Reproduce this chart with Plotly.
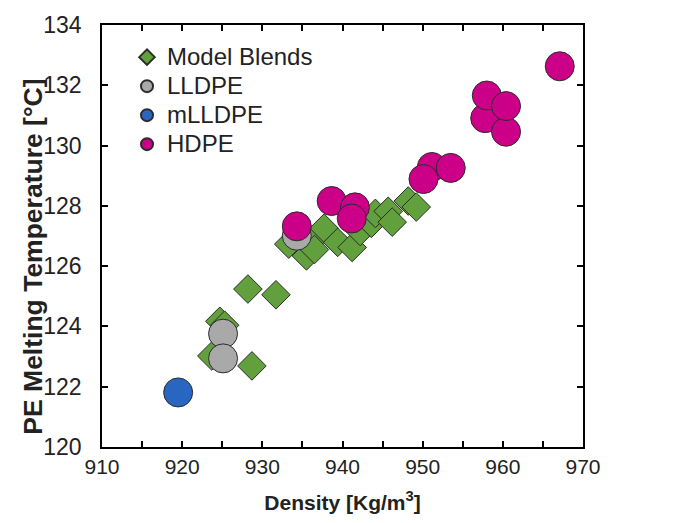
import plotly.graph_objects as go

# Model Blends (green diamonds)
blend_density = [924.7, 925.3, 923.7, 928.7, 928.2, 931.7, 933.3, 935.5, 936.2, 936.5,
                 937.7, 939.4, 941.2, 942.2, 943.6, 944.1, 945.7, 946.2, 948.2, 949.2]
blend_tm = [124.17, 124.04, 123.02, 122.69, 125.24, 125.05, 126.73, 126.34, 126.86, 126.55,
            127.26, 126.79, 126.62, 127.15, 127.42, 127.75, 127.82, 127.46, 128.16, 127.96]

# LLDPE (gray circles)
lldpe_density = [934.3, 925.1, 925.1]
lldpe_tm = [127.01, 123.76, 122.94]

# mLLDPE (blue circle)
mlldpe_density = [919.5]
mlldpe_tm = [121.81]

# HDPE (magenta circles)
hdpe_density = [934.3, 938.65, 941.55, 941.15, 951.15, 950.1, 953.5, 957.8, 958.0, 960.4, 960.4, 967.1]
hdpe_tm = [127.32, 128.16, 127.95, 127.58, 129.29, 128.89, 129.26, 130.91, 131.66, 130.46, 131.31, 132.63]

series_names = ["Model Blends", "LLDPE", "mLLDPE", "HDPE"]

x_ticks = [910, 920, 930, 940, 950, 960, 970]
y_ticks = [120, 122, 124, 126, 128, 130, 132, 134]

FONT = "Liberation Sans, Arial, sans-serif"
line = dict(color="#2b2b2b", width=1)


def legend_label(name):
    return '<span style="font-size:24px">' + name + '</span>'


fig = go.Figure()
fig.add_trace(go.Scatter(x=blend_density, y=blend_tm, mode="markers", name=legend_label(series_names[0]),
                         marker=dict(symbol="diamond", size=22, color="#62A03E", line=line)))
fig.add_trace(go.Scatter(x=lldpe_density, y=lldpe_tm, mode="markers", name=legend_label(series_names[1]),
                         marker=dict(symbol="circle", size=29, color="#A9A9A9", line=line)))
fig.add_trace(go.Scatter(x=mlldpe_density, y=mlldpe_tm, mode="markers", name=legend_label(series_names[2]),
                         marker=dict(symbol="circle", size=29, color="#2866C2", line=line)))
fig.add_trace(go.Scatter(x=hdpe_density, y=hdpe_tm, mode="markers", name=legend_label(series_names[3]),
                         marker=dict(symbol="circle", size=29, color="#CC0088", line=line)))

fig.update_layout(
    width=673, height=523,
    margin=dict(l=102, r=90, t=24, b=74.5),
    paper_bgcolor="white", plot_bgcolor="white",
    font=dict(family=FONT, size=20, color="#222"),
    legend=dict(x=0.052, y=0.97, xanchor="left", yanchor="top",
                bgcolor="rgba(0,0,0,0)", itemsizing="constant",
                font=dict(size=20, color="#222"), tracegroupgap=0),
    xaxis=dict(range=[910, 970], tickvals=x_ticks, ticks="inside", ticklen=6, tickwidth=1.5,
               tickcolor="black", showline=True, linecolor="black", linewidth=1.5,
               mirror="ticks", showgrid=False, zeroline=False,
               tickfont=dict(size=21, color="#222"),
               minor=dict(dtick=5, tick0=910, ticks="inside", ticklen=6, tickwidth=1.5,
                          tickcolor="black", showgrid=False),
               title=dict(text="<b>Density [Kg/m<sup>3</sup>]</b>", font=dict(size=21, color="#222"),
                          standoff=18)),
    yaxis=dict(range=[120, 134], tickvals=y_ticks, ticks="inside", ticklen=6, tickwidth=1.5,
               tickcolor="black", showline=True, linecolor="black", linewidth=1.5,
               mirror="ticks", showgrid=False, zeroline=False, ticklabelstandoff=14,
               tickfont=dict(size=23, color="#222")),
    annotations=[dict(text="<b>PE Melting Temperature [°C]</b>", textangle=-90,
                      xref="paper", yref="paper", x=-0.1435, y=0.451,
                      xanchor="center", yanchor="middle", showarrow=False,
                      font=dict(size=26.5, color="#222"))],
)

fig.write_html("out.html")
